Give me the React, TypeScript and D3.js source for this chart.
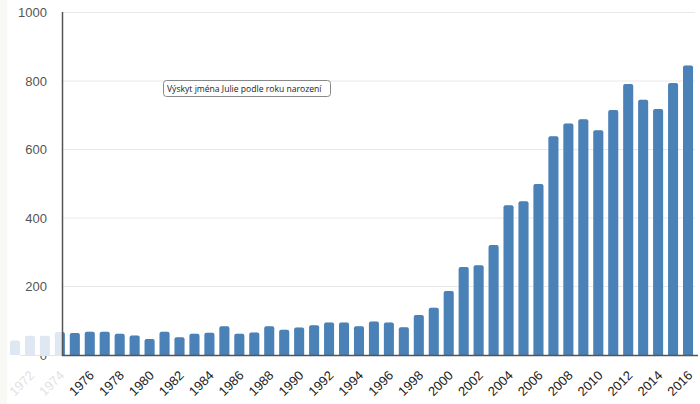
import React, { useEffect, useRef } from "react";
import * as d3 from "d3";

const years: number[] = d3.range(1971, 2017);
const counts: number[] = [
  42, 56, 56, 67, 64, 68, 68, 62, 57, 47,
  68, 52, 62, 65, 84, 62, 66, 84, 74, 80,
  87, 95, 95, 84, 98, 95, 81, 117, 138, 187,
  257, 262, 321, 437, 449, 499, 639, 676, 688, 656,
  715, 791, 745, 718, 794, 845,
];
const yTicks: number[] = [0, 200, 400, 600, 800, 1000];
const title = "Výskyt jména Julie podle roku narození";

export default function App() {
  const svgRef = useRef<SVGSVGElement>(null);
  const W = 700;
  const H = 404;
  const axisX = 62;
  const baseY = 355;

  useEffect(() => {
    const svg = d3.select(svgRef.current);
    svg.selectAll("*").remove();

    const data = years.map((y, i) => ({ year: y, value: counts[i] }));

    const x = d3
      .scaleBand<number>()
      .domain(years)
      .range([7.5, 695.5])
      .paddingInner(0.33)
      .paddingOuter(0.165);
    const y = d3.scaleLinear().domain([0, 1000]).range([baseY, 12.5]);

    svg.append("rect").attr("width", W).attr("height", H).attr("fill", "#ffffff");
    svg.append("rect").attr("width", 7).attr("height", H).attr("fill", "#f8f8f4");

    // grid
    svg
      .append("g")
      .selectAll("line")
      .data(yTicks.filter((t) => t > 0))
      .enter()
      .append("line")
      .attr("x1", axisX)
      .attr("x2", 695)
      .attr("y1", (d) => y(d))
      .attr("y2", (d) => y(d))
      .attr("stroke", "#e8e8e8")
      .attr("stroke-width", 1);

    // y labels
    svg
      .append("g")
      .selectAll("text")
      .data(yTicks)
      .enter()
      .append("text")
      .attr("x", 47)
      .attr("y", (d) => y(d))
      .attr("dy", "0.35em")
      .attr("text-anchor", "end")
      .attr("font-family", "'Liberation Sans', Arial, sans-serif")
      .attr("font-size", 13)
      .attr("fill", "#555")
      .text((d) => d);

    svg
      .append("defs")
      .append("clipPath")
      .attr("id", "plotclip")
      .append("rect")
      .attr("x", axisX)
      .attr("y", 0)
      .attr("width", W - axisX)
      .attr("height", H);

    const barPath = (d: { year: number; value: number }) => {
      const x0 = x(d.year)!;
      const w = x.bandwidth();
      const top = y(d.value);
      const r = 2;
      return `M${x0},${baseY} V${top + r} Q${x0},${top} ${x0 + r},${top} H${x0 + w - r} Q${x0 + w},${top} ${x0 + w},${top + r} V${baseY} Z`;
    };

    // faded bars (outside plot)
    svg
      .append("g")
      .selectAll("path")
      .data(data)
      .enter()
      .append("path")
      .attr("d", barPath)
      .attr("fill", "#dfe8f2");

    svg
      .append("g")
      .attr("clip-path", "url(#plotclip)")
      .selectAll("path")
      .data(data)
      .enter()
      .append("path")
      .attr("d", barPath)
      .attr("fill", "#4a81b6");

    // axes lines
    svg
      .append("line")
      .attr("x1", 20)
      .attr("x2", axisX)
      .attr("y1", baseY + 0.5)
      .attr("y2", baseY + 0.5)
      .attr("stroke", "#e4e4e4");
    svg
      .append("line")
      .attr("x1", axisX)
      .attr("x2", 698)
      .attr("y1", baseY + 0.5)
      .attr("y2", baseY + 0.5)
      .attr("stroke", "#555")
      .attr("stroke-width", 1.5);
    svg
      .append("line")
      .attr("x1", axisX + 0.5)
      .attr("x2", axisX + 0.5)
      .attr("y1", 12)
      .attr("y2", baseY + 1)
      .attr("stroke", "#555")
      .attr("stroke-width", 1.5);

    // x labels
    svg
      .append("g")
      .selectAll("text")
      .data(years.filter((yr) => yr % 2 === 0))
      .enter()
      .append("text")
      .attr(
        "transform",
        (d) => `translate(${x(d)! + x.bandwidth() / 2 + 2},${baseY + 18}) rotate(-45)`
      )
      .attr("text-anchor", "end")
      .attr("dy", "0.35em")
      .attr("font-family", "'Liberation Sans', Arial, sans-serif")
      .attr("font-size", 13)
      .attr("fill", (d) => (x(d)! + x.bandwidth() / 2 < axisX ? "#e2e2e2" : "#222"))
      .text((d) => d);

    // title box
    const tb = svg.append("g").attr("transform", "translate(163,80)");
    tb.append("rect")
      .attr("x", 0.5)
      .attr("y", 0.5)
      .attr("width", 167)
      .attr("height", 16)
      .attr("rx", 3)
      .attr("fill", "#fff")
      .attr("stroke", "#888");
    tb.append("text")
      .attr("x", 4)
      .attr("y", 8.5)
      .attr("dy", "0.35em")
      .attr("font-family", "'Open Sans', sans-serif")
      .attr("font-size", 8.6)
      .attr("fill", "#222")
      .text(title);
  }, []);

  return (
    <svg
      ref={svgRef}
      width={W}
      height={H}
      style={{ position: "absolute", left: 0, top: 0, display: "block" }}
    />
  );
}
